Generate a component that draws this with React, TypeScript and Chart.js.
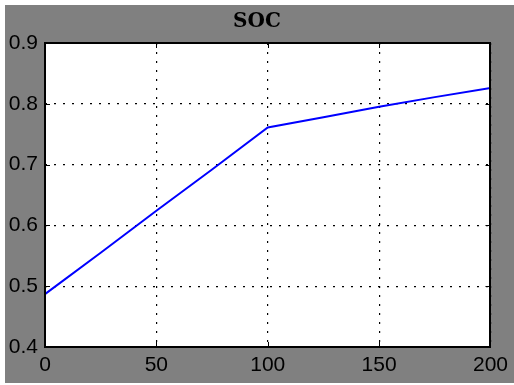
import React, { useEffect, useRef } from "react";
import { Chart, registerables } from "chart.js";

Chart.register(...registerables);

const titleText = "SOC";
const xValues = [0, 25, 50, 75, 100, 125, 150, 175, 200];
const socValues = [0.487, 0.555, 0.624, 0.692, 0.761, 0.778, 0.795, 0.811, 0.826];
const xTicks = [0, 50, 100, 150, 200];
const yTicks = [0.4, 0.5, 0.6, 0.7, 0.8, 0.9];

const W = 514;
const H = 385;

const backgroundPlugin = {
  id: "bgPlugin",
  beforeDraw(chart: any) {
    const { ctx, chartArea } = chart;
    ctx.save();
    ctx.fillStyle = "#ffffff";
    ctx.fillRect(0, 0, W, H);
    ctx.fillStyle = "#808080";
    ctx.fillRect(5, 5, W - 5, 378);
    ctx.fillStyle = "#ffffff";
    ctx.fillRect(chartArea.left, chartArea.top, chartArea.right - chartArea.left, chartArea.bottom - chartArea.top);
    ctx.restore();
  },
};

const framePlugin = {
  id: "framePlugin",
  afterDatasetsDraw(chart: any) {
    const { ctx, chartArea, scales } = chart;
    const { left, right, top, bottom } = chartArea;
    ctx.save();
    ctx.strokeStyle = "#000000";
    ctx.lineWidth = 1;
    ctx.setLineDash([]);
    ctx.beginPath();
    const tl = 5;
    xTicks.forEach((v) => {
      const px = Math.round(scales.x.getPixelForValue(v)) + 0.5;
      ctx.moveTo(px, bottom);
      ctx.lineTo(px, bottom - tl);
      ctx.moveTo(px, top);
      ctx.lineTo(px, top + tl);
    });
    yTicks.forEach((v) => {
      const py = Math.round(scales.y.getPixelForValue(v)) + 0.5;
      ctx.moveTo(left, py);
      ctx.lineTo(left + tl, py);
      ctx.moveTo(right, py);
      ctx.lineTo(right - tl, py);
    });
    ctx.stroke();
    ctx.lineWidth = 2;
    ctx.strokeRect(Math.round(left), Math.round(top), Math.round(right - left), Math.round(bottom - top));
    ctx.restore();
  },
};

export default function App() {
  const ref = useRef<HTMLCanvasElement | null>(null);

  useEffect(() => {
    if (!ref.current) return;
    const labelFont = { family: "'Liberation Sans', Arial, sans-serif", size: 21 };
    const chart = new Chart(ref.current, {
      type: "line",
      data: {
        datasets: [
          {
            label: titleText,
            data: xValues.map((x, i) => ({ x, y: socValues[i] })),
            borderColor: "#0000ff",
            borderWidth: 2,
            pointRadius: 0,
            fill: false,
            tension: 0,
          },
        ],
      },
      options: {
        animation: false,
        responsive: false,
        devicePixelRatio: 1,
        layout: { padding: 0 },
        plugins: {
          legend: { display: false },
          tooltip: { enabled: false },
          title: {
            display: true,
            text: titleText,
            color: "#000000",
            font: { family: "'DejaVu Serif', serif", size: 20, weight: "bold", lineHeight: 1.2 },
            padding: { top: 10, bottom: 9 },
          },
        },
        scales: {
          x: {
            type: "linear",
            position: "bottom",
            min: 0,
            max: 200,
            afterBuildTicks: (s: any) => {
              s.ticks = xTicks.map((v) => ({ value: v }));
            },
            afterFit: (s: any) => {
              s.height = 38;
            },
            grid: {
              color: "#000000",
              lineWidth: 1.2,
              drawTicks: false,
            },
            border: { display: false, dash: [2, 7] },
            ticks: {
              color: "#000000",
              font: labelFont,
              padding: 6,
              maxRotation: 0,
              autoSkip: false,
              callback: (v: any) => String(v),
            },
          },
          y: {
            type: "linear",
            position: "left",
            min: 0.4,
            max: 0.9,
            afterBuildTicks: (s: any) => {
              s.ticks = yTicks.map((v) => ({ value: v }));
            },
            afterFit: (s: any) => {
              s.width = 45;
            },
            grid: {
              color: "#000000",
              lineWidth: 1.2,
              drawTicks: false,
            },
            border: { display: false, dash: [2, 7] },
            ticks: {
              color: "#000000",
              font: labelFont,
              padding: 7,
              autoSkip: false,
              callback: (v: any) => Number(v).toFixed(1),
            },
          },
          y2: {
            type: "linear",
            position: "right",
            min: 0.4,
            max: 0.9,
            afterFit: (s: any) => {
              s.width = 19;
            },
            grid: { display: false, drawTicks: false },
            border: { display: false },
            ticks: { display: false },
          },
        },
      },
      plugins: [backgroundPlugin, framePlugin],
    } as any);
    return () => chart.destroy();
  }, []);

  return (
    <div style={{ position: "fixed", left: 0, top: 0, width: W, height: H }}>
      <canvas ref={ref} width={W} height={H} style={{ display: "block", width: W, height: H }} />
    </div>
  );
}
